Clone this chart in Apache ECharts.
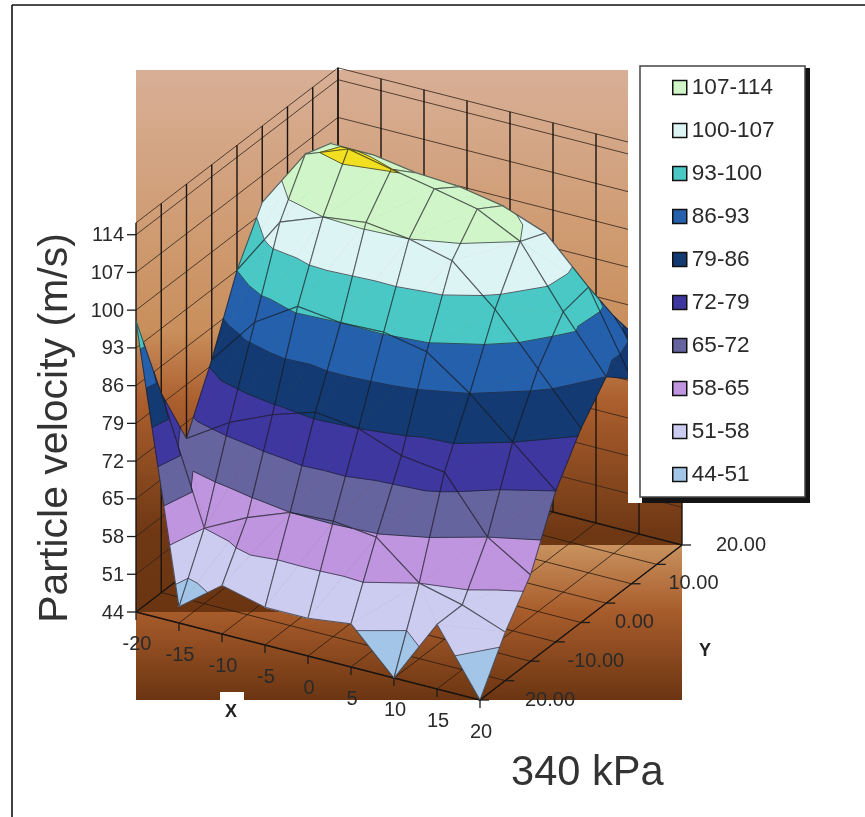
<!DOCTYPE html>
<html><head><meta charset="utf-8">
<style>html,body{margin:0;padding:0;background:#fff}#c{width:865px;height:817px}</style>
<script src="https://cdn.jsdelivr.net/npm/echarts@6/dist/echarts.min.js"></script>
</head><body><div id="c"></div>
<script>
const xValues = [-20,-15,-10,-5,0,5,10,15,20];
const yValues = [-20,-15,-10,-5,0,5,10,15,20];
const zTicks = [44,51,58,65,72,79,86,93,100,107,114];
const yTickLabels = ['20.00','','10.00','','0.00','','-10.00','','20.00'];
const bandEdges = [44,51,58,65,72,79,86,93,100,107,114];
const bandNames = ['44-51','51-58','58-65','65-72','72-79','79-86','86-93','93-100','100-107','107-114'];
const bandColors = ['#A3C6E8','#CCCCF0','#BE95DE','#66649E','#3F37A0','#133A73','#2560AC','#4AC8C5','#DCF4F4','#CFF5C8'];
const overColor = '#F2E020';
// velocity, rows Y=-20..20, columns X=-20..20
const rowYm20 = [98,47,53,51,51,52,44,56,44];
const rowYm15 = [81,58,62,65,65.4,64.5,58,56,53];
const rowYm10 = [69,74,77.5,80,79,76,75,65,60];
const rowYm5  = [80,89,94,93,93.3,91.7,86,79,72];
const rowY0   = [93,104,107,108,107,105,98,89,80];
const rowY5   = [102,113,116,114.3,112.7,111,107,96,86];
const rowY10  = [99,111.4,111.3,110,109.5,108,105,97,82];
const rowY15  = [96,102,101,100,100,97,92,88,78];
const rowY20  = [93,98,97,96,95,88,82,80,74];
const velocity = [rowYm20,rowYm15,rowYm10,rowYm5,rowY0,rowY5,rowY10,rowY15,rowY20];

const Z_TOP = 116.2;
function proj(X,Y,Z){
  return [136+8.6*(X+20)+5.05*(Y+20), 612+2.2*(X+20)-3.875*(Y+20)-5.39*(Z-44)];
}
function clip(poly,level,keepAbove){
  const out=[];
  for(let i=0;i<poly.length;i++){
    const a=poly[i],b=poly[(i+1)%poly.length];
    const ia=keepAbove?a[2]>=level:a[2]<=level, ib=keepAbove?b[2]>=level:b[2]<=level;
    if(ia) out.push(a);
    if(ia!==ib){const t=(level-a[2])/(b[2]-a[2]);out.push([a[0]+t*(b[0]-a[0]),a[1]+t*(b[1]-a[1]),level]);}
  }
  return out;
}
function contourSeg(tri,level){
  const pts=[];
  for(let i=0;i<3;i++){
    const a=tri[i],b=tri[(i+1)%3];
    if((a[2]<level)!==(b[2]<level)){const t=(level-a[2])/(b[2]-a[2]);pts.push([a[0]+t*(b[0]-a[0]),a[1]+t*(b[1]-a[1]),level]);}
  }
  return pts.length===2?pts:null;
}
function area(a,b,c){
  const A=proj(...a),B=proj(...b),C=proj(...c);
  return (B[0]-A[0])*(C[1]-A[1])-(C[0]-A[0])*(B[1]-A[1]);
}
const cells=[];
for(let j=yValues.length-2;j>=0;j--) for(let i=0;i<xValues.length-1;i++) cells.push([i,j]);

function renderCell(params,api){
  const i=api.value(0),j=api.value(1);
  const P=(a,b)=>[xValues[a],yValues[b],velocity[b][a]];
  const q=[P(i,j),P(i+1,j),P(i+1,j+1),P(i,j+1)];
  const convexMain=area(q[0],q[1],q[2])*area(q[0],q[2],q[3])>0;
  const tris=convexMain?[[q[0],q[1],q[2]],[q[0],q[2],q[3]]]:[[q[0],q[1],q[3]],[q[1],q[2],q[3]]];
  const toPts=arr=>arr.map(p=>api.coord(proj(p[0],p[1],p[2])));
  const children=[];
  const edges=bandEdges.concat([1000]);
  tris.forEach(t=>{
    for(let b=0;b<edges.length-1;b++){
      let poly=clip(t,edges[b],true); if(poly.length<3) continue;
      poly=clip(poly,edges[b+1],false); if(poly.length<3) continue;
      const col=b<bandColors.length?bandColors[b]:overColor;
      children.push({type:'polygon',shape:{points:toPts(poly)},style:{fill:col,stroke:col,lineWidth:0.6}});
    }
  });
  tris.forEach(t=>{
    bandEdges.forEach(l=>{
      const s=contourSeg(t,l);
      if(s) children.push({type:'polyline',shape:{points:toPts(s)},style:{stroke:'rgba(25,30,45,0.75)',lineWidth:0.9,fill:null}});
    });
  });
  children.push({type:'polyline',shape:{points:toPts(q.concat([q[0]]))},style:{stroke:'rgba(25,25,30,0.62)',lineWidth:1.1,fill:null}});
  return {type:'group',children};
}

const X0=xValues[0],X1=xValues[8],Y0=yValues[0],Y1=yValues[8],ZB=zTicks[0];
const frame=[];
zTicks.forEach(z=>{
  if(z!==ZB){frame.push([[X0,Y0,z],[X0,Y1,z],'thin']);frame.push([[X0,Y1,z],[X1,Y1,z],'thin']);}
});
frame.push([[X0,Y0,Z_TOP],[X0,Y1,Z_TOP],'thin']);
frame.push([[X0,Y1,Z_TOP],[X1,Y1,Z_TOP],'thin']);
yValues.forEach(y=>frame.push([[X0,y,ZB],[X0,y,Z_TOP],'wall']));
xValues.forEach(x=>frame.push([[x,Y1,ZB],[x,Y1,Z_TOP],'wall']));
xValues.forEach(x=>frame.push([[x,Y0,ZB],[x,Y1,ZB],'floor']));
yValues.forEach(y=>frame.push([[X0,y,ZB],[X1,y,ZB],'floor']));
frame.push([[X0,Y0,ZB],[X1,Y0,ZB],'axis']);
frame.push([[X1,Y0,ZB],[X1,Y1,ZB],'axis']);
frame.push([[X0,Y1,ZB],[X1,Y1,ZB],'axis']);
frame.push([[X0,Y0,ZB],[X0,Y1,ZB],'axis']);
const lineStyles={thin:['rgba(50,35,25,0.8)',1],wall:['#1c1410',1.4],floor:['rgba(40,25,15,0.8)',1],axis:['#1c1410',1.4]};

function renderFrame(params,api){
  const s=frame[api.value(0)];
  const st=lineStyles[s[2]];
  const a=api.coord(proj(...s[0])),b=api.coord(proj(...s[1]));
  return {type:'line',shape:{x1:a[0],y1:a[1],x2:b[0],y2:b[1]},style:{stroke:st[0],lineWidth:st[1]}};
}
const font='20px "Liberation Sans", Arial, sans-serif';
const tickColor='#1c1c1c', textColor='#2a2a2a';
function tick(a,dx,dy){return {type:'line',shape:{x1:a[0],y1:a[1],x2:a[0]+dx,y2:a[1]+dy},style:{stroke:tickColor,lineWidth:1.3}};}
function label(a,dx,dy,text,align){return {type:'text',style:{text,x:a[0]+dx,y:a[1]+dy,font,fill:textColor,align:align||'center',verticalAlign:'middle'}};}
function renderXTick(p,api){const v=xValues[api.value(0)],a=api.coord(proj(v,Y0,ZB));
  return {type:'group',children:[tick(a,0,8),label(a,1,32,String(v))]};}
function renderYTick(p,api){const idx=api.value(0),a=api.coord(proj(X1,yValues[8-idx],ZB));const t=yTickLabels[idx];
  const kids=[tick(a,9,0)]; if(t) kids.push(label(a,idx===8?45:(idx===2||idx===6?37:34),0,t,'left'));
  return {type:'group',children:kids};}
function renderZTick(p,api){const v=zTicks[api.value(0)],a=api.coord(proj(X0,Y0,v));
  return {type:'group',children:[tick(a,-9,0),label(a,-12,1,String(v),'right')]};}
function idx(arr){return arr.map((_,i)=>[i,0]);}

const legendData=bandNames.map((n,i)=>({name:n,icon:'rect',itemStyle:{color:bandColors[i],borderColor:'#111',borderWidth:1.5}})).reverse();

const chart=echarts.init(document.getElementById('c'),null,{renderer:'canvas'});
const lowerGrad=()=>new echarts.graphic.LinearGradient(0,545,0,700,[{offset:0,color:'#C8925F'},{offset:0.43,color:'#A85C2B'},{offset:1,color:'#6B3512'}],true);
const baseSeries={type:'custom',coordinateSystem:'cartesian2d',clip:false,silent:true,animation:false};
chart.setOption({
  animation:false,
  grid:{left:0,right:0,top:0,bottom:0},
  xAxis:{type:'value',min:0,max:865,show:false},
  yAxis:{type:'value',min:0,max:817,inverse:true,show:false},
  legend:{
    orient:'vertical',left:640,top:66,selectedMode:false,icon:'rect',
    itemWidth:14,itemHeight:14,itemGap:20,padding:[10,30,11,32],
    textStyle:{fontFamily:'"Liberation Sans", Arial, sans-serif',fontSize:22.6,color:textColor,lineHeight:22},
    data:legendData,z:20
  },
  graphic:[
    {type:'rect',z:-5,shape:{x:136,y:70,width:546,height:545},style:{fill:new echarts.graphic.LinearGradient(0,70,0,612,[{offset:0,color:'#D8AF96'},{offset:0.48,color:'#C98F5C'},{offset:0.61,color:'#AC5F2E'},{offset:0.85,color:'#6F3814'},{offset:1,color:'#6B3512'}],true)}},
    {type:'rect',z:-4,shape:{x:400,y:545,width:282,height:155},style:{fill:lowerGrad()}},
    {type:'rect',z:-4,shape:{x:136,y:612,width:264,height:88},style:{fill:lowerGrad()}},
    {type:'rect',z:5,shape:{x:628,y:60,width:180,height:443},style:{fill:'#fff'}},
    {type:'rect',z:5,shape:{x:220,y:692,width:24,height:9},style:{fill:'#fff'}},
    {type:'rect',z:6,shape:{x:642,y:68,width:168,height:435},style:{fill:'#141414'}},
    {type:'rect',z:7,shape:{x:640,y:66,width:165,height:431},style:{fill:'#fff',stroke:'#444',lineWidth:1.5}},
    {type:'line',z:6,shape:{x1:12,y1:5,x2:865,y2:5},style:{stroke:'#111',lineWidth:1.6}},
    {type:'line',z:6,shape:{x1:12,y1:5,x2:12,y2:817},style:{stroke:'#111',lineWidth:1.6}},
    {type:'text',z:6,x:56,y:428,rotation:Math.PI/2,style:{text:'Particle velocity (m/s)',font:'41px "Liberation Sans", Arial, sans-serif',fill:'#333',align:'center',verticalAlign:'middle'}},
    {type:'text',z:6,x:511,y:774,style:{text:'340 kPa',font:'41.6px "Liberation Sans", Arial, sans-serif',fill:'#333',align:'left',verticalAlign:'middle'}},
    {type:'text',z:6,x:231,y:712,style:{text:'X',font:'bold 18px "Liberation Sans", Arial, sans-serif',fill:'#222',align:'center',verticalAlign:'middle'}},
    {type:'text',z:6,x:705,y:651,style:{text:'Y',font:'bold 18px "Liberation Sans", Arial, sans-serif',fill:'#222',align:'center',verticalAlign:'middle'}}
  ],
  series:[
    Object.assign({},baseSeries,{name:'frame',z:1,data:frame.map((_,i)=>[i,0]),renderItem:renderFrame}),
    Object.assign({},baseSeries,{name:'surface',z:2,data:cells,renderItem:renderCell}),
    Object.assign({},baseSeries,{name:'xticks',z:3,data:idx(xValues),renderItem:renderXTick}),
    Object.assign({},baseSeries,{name:'yticks',z:3,data:idx(yTickLabels),renderItem:renderYTick}),
    Object.assign({},baseSeries,{name:'zticks',z:3,data:idx(zTicks),renderItem:renderZTick})
  ].concat(bandNames.map((n,i)=>Object.assign({},baseSeries,{name:n,data:[],itemStyle:{color:bandColors[i]},renderItem:()=>null})))
});
</script></body></html>
